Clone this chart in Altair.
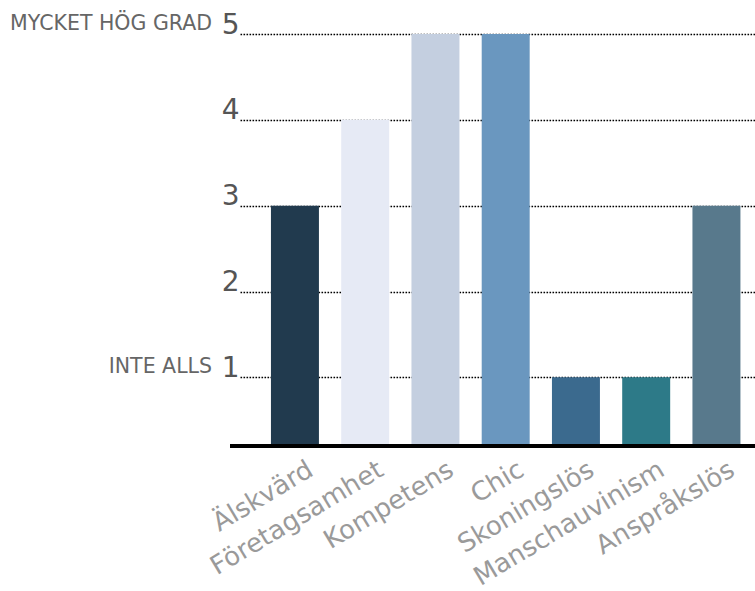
import altair as alt
import pandas as pd

# Ratings per attribute (1 = inte alls, 5 = mycket hög grad)
attributes = ["Älskvärd", "Företagsamhet", "Kompetens", "Chic",
              "Skoningslös", "Manschauvinism", "Anspråkslös"]
ratings = [3, 4, 5, 5, 1, 1, 3]
bar_colors = ["#213a4e", "#e6eaf5", "#c4cfe0", "#6a97bf",
              "#3b6a8e", "#2d7a88", "#58798c"]

# Verbal anchors for the ends of the scale
anchor_values = [5, 1]
anchor_texts = ["MYCKET HÖG GRAD", "INTE ALLS"]

bars_df = pd.DataFrame({"attribut": attributes, "betyg": ratings})
anchors_df = pd.DataFrame({"betyg": anchor_values, "text": anchor_texts})

W, H = 515, 412
AXIS_MIN = 0.2
y_scale = alt.Scale(domain=[AXIS_MIN, 5], zero=False, nice=False)
FONT = "DejaVu Sans"

bars = alt.Chart(bars_df).mark_bar().encode(
    x=alt.X(
        "attribut:N",
        sort=attributes,
        scale=alt.Scale(paddingInner=0.317, paddingOuter=0.324, align=0.68),
        axis=alt.Axis(
            title=None, domain=False, ticks=False, tickSize=0,
            labelAngle=-31, labelAlign="right", labelBaseline="alphabetic",
            labelOffset=20, labelPadding=28, labelFontSize=26,
            labelFont=FONT,
            labelColor="#9a9a9a", labelOverlap=False, labelLimit=400,
        ),
    ),
    y=alt.Y(
        "betyg:Q",
        scale=y_scale,
        axis=alt.Axis(
            title=None, values=[1, 2, 3, 4, 5], format="d",
            domain=False, ticks=False, tickSize=0,
            labelFontSize=28, labelFont=FONT,
            labelColor="#555555", labelPadding=1,
            labelBaseline="alphabetic", labelOffset=-1,
            grid=True, gridColor="#000000", gridWidth=1.6,
            gridDash=[1.6, 1.4], gridOpacity=1,
        ),
    ),
    y2=alt.datum(AXIS_MIN),
    color=alt.Color("attribut:N", scale=alt.Scale(domain=attributes, range=bar_colors),
                    legend=None),
)

baseline = alt.Chart(bars_df).mark_rule(color="#000000", strokeWidth=4).encode(
    x=alt.value(-10), x2=alt.value(W), y=alt.value(H)
)

anchors = alt.Chart(anchors_df).mark_text(
    align="right", baseline="alphabetic", dy=-4,
    font=FONT, fontSize=20.5, color="#666666",
).encode(
    x=alt.value(-28),
    y=alt.Y("betyg:Q", scale=y_scale),
    text="text:N",
)

chart = alt.layer(bars, baseline, anchors).properties(
    width=W, height=H,
    autosize=alt.AutoSizeParams(type="none"),
    padding={"left": 240, "top": 34, "right": 0, "bottom": 145},
).configure(background="#ffffff", view=alt.ViewConfig(stroke=None))

chart.save("out.html", embed_options={"renderer": "svg", "actions": False})
